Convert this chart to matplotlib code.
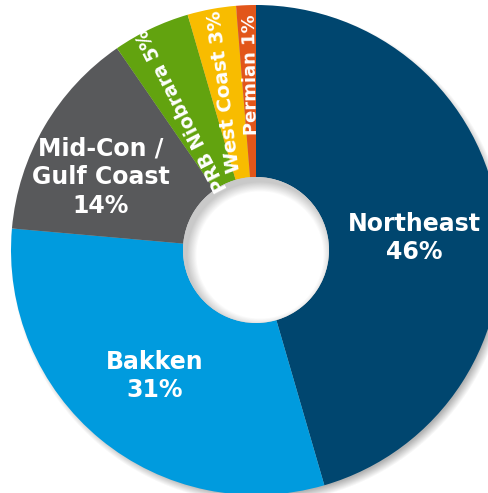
import numpy as np
import matplotlib.pyplot as plt
from matplotlib.patches import Circle

# data
regions = ["Northeast", "Bakken", "Mid-Con /\nGulf Coast", "PRB Niobrara", "West Coast", "Permian"]
shares = [46, 31, 14, 5, 3, 1]                 # labelled (rounded) shares
wedge_size = [45.5, 30.9, 14.0, 5.1, 3.2, 1.3]  # wedge sizes as read from the ring
colors = ["#00466F", "#009BDE", "#58595B", "#62A30F", "#F8BC00", "#E2561A"]

# label placement (pixel coords, y down) and rotation
label_xy = [(414, 238), (155, 376), (101, 177), (182, 110), (225, 92), (251, 75)]
label_rot = [0, 0, 0, 117, 97, 91]
label_size = [17, 17, 17, 13.5, 14, 13]

W, H = 489, 493
cx, cy = 256, H - 250
R = 245
r_hole = 73

fig = plt.figure(figsize=(W / 100, H / 100), dpi=100)
ax = fig.add_axes([0, 0, 1, 1])

# soft drop shadow under the ring
yy, xx = np.mgrid[0:H, 0:W] + 0.5
d = np.hypot(xx - (cx + 4), yy - (cy - 5))
a = np.clip((R + 4 - d) / 9, 0, 1) * 0.45
shadow = np.zeros((H, W, 4))
shadow[..., :3] = 0.35
shadow[..., 3] = a
ax.imshow(shadow, extent=(0, W, 0, H), origin='lower', zorder=0, interpolation='bilinear')

ax.pie(wedge_size, colors=colors, startangle=90, counterclock=False, radius=R,
       center=(cx, cy), wedgeprops=dict(width=R - r_hole, linewidth=0))

# inner shadow inside the hole (upper-left edge)
hole = Circle((cx, cy), r_hole, facecolor='white', edgecolor='none', zorder=3)
ax.add_patch(hole)
d2 = np.hypot(xx - (cx + 4), yy - (cy - 5))
a2 = np.clip((d2 - (r_hole - 10)) / 10, 0, 1) * 0.35
inner = np.zeros((H, W, 4))
inner[..., :3] = 0.4
inner[..., 3] = a2
im = ax.imshow(inner, extent=(0, W, 0, H), origin='lower', zorder=4, interpolation='bilinear')
im.set_clip_path(Circle((cx, cy), r_hole, transform=ax.transData))

for i in range(len(regions)):
    if i < 3:
        txt = "%s\n%d%%" % (regions[i], shares[i])
    else:
        txt = "%s %d%%" % (regions[i], shares[i])
    x, y = label_xy[i]
    ax.text(x, H - y, txt, color='white', fontweight='bold', fontsize=label_size[i],
            ha='center', va='center', rotation=label_rot[i], rotation_mode='anchor',
            linespacing=1.25, family='DejaVu Sans', zorder=5)

ax.set_xlim(0, W)
ax.set_ylim(0, H)
ax.set_aspect('equal')
ax.axis('off')

fig.savefig("out.png", dpi=100)
